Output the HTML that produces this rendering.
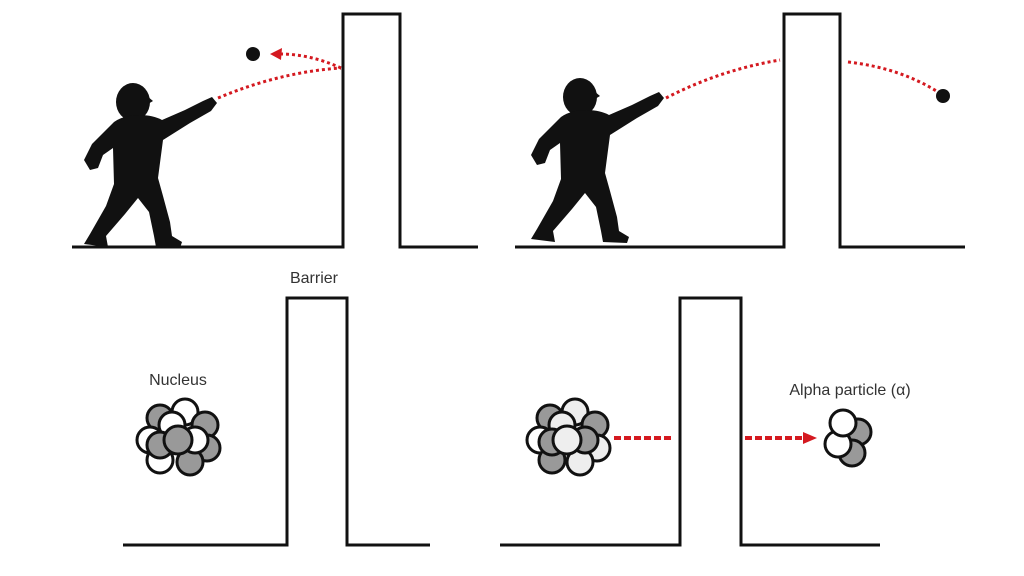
<!DOCTYPE html>
<html><head><style>body{margin:0;background:#fff}svg{display:block}</style></head><body>
<svg width="1024" height="576" viewBox="0 0 1024 576" xmlns="http://www.w3.org/2000/svg">
<defs>
<g id="kid" fill="#111">
<ellipse cx="133" cy="102" rx="17" ry="19"/>
<path d="M147,96 l6,5 -5,3z"/>
<path d="M114,122 C128,112 152,114 162,120 L185,110 L203,101 L212,97 L217,103 L211,111 L190,123 L163,140 L158,178 L163,196 L170,222 L172,236 L182,242 L180,248 L156,247 L154,236 L149,212 L138,198 L125,214 L106,236 L108,247 L84,244 L90,234 L106,206 L114,184 L113,148 L103,155 L98,168 L90,170 L84,160 L92,144 Z"/>
</g>
</defs>
<g fill="none" stroke="#111" stroke-width="3">
<path d="M72,247 H343 V14 H400 V247 H478"/>
<path d="M515,247 H784 V14 H840 V247 H965"/>
<path d="M123,545 H287 V298 H347 V545 H430"/>
<path d="M500,545 H680 V298 H741 V545 H880"/>
</g>
<use href="#kid"/>
<use href="#kid" transform="translate(447,-5)"/>
<circle cx="253" cy="54" r="7" fill="#111"/>
<circle cx="943" cy="96" r="7" fill="#111"/>
<g fill="none" stroke="#d41920" stroke-width="3" stroke-dasharray="3,3">
<path d="M218,98 Q280,72 341,68"/>
<path d="M341,68 Q310,54 280,54"/>
<path d="M666,98 Q720,70 780,60"/>
<path d="M848,62 Q900,68 938,92"/>
</g>
<path d="M270,54 L282,48 L281,60Z" fill="#d41920"/>
<g fill="none" stroke="#d41920" stroke-width="4">
<path d="M614,438 H672" stroke-dasharray="7,3"/>
<path d="M745,438 H805" stroke-dasharray="7,3"/>
</g>
<path d="M817,438 L803,432 L803,444Z" fill="#d41920"/>
<g stroke="#111" stroke-width="3">
<circle cx="160" cy="418" r="13" fill="#999"/><circle cx="185" cy="412" r="13" fill="#fff"/><circle cx="205" cy="425" r="13" fill="#999"/>
<circle cx="150" cy="440" r="13" fill="#fff"/><circle cx="207" cy="448" r="13" fill="#999"/><circle cx="160" cy="460" r="13" fill="#fff"/>
<circle cx="190" cy="462" r="13" fill="#999"/><circle cx="172" cy="425" r="13" fill="#fff"/><circle cx="195" cy="440" r="13" fill="#fff"/>
<circle cx="160" cy="445" r="13" fill="#999"/><circle cx="178" cy="440" r="14" fill="#999"/>
</g>
<g stroke="#111" stroke-width="3">
<circle cx="550" cy="418" r="13" fill="#999"/><circle cx="575" cy="412" r="13" fill="#eee"/><circle cx="595" cy="425" r="13" fill="#999"/>
<circle cx="540" cy="440" r="13" fill="#fff"/><circle cx="597" cy="448" r="13" fill="#eee"/><circle cx="552" cy="460" r="13" fill="#999"/>
<circle cx="580" cy="462" r="13" fill="#eee"/><circle cx="562" cy="425" r="13" fill="#eee"/><circle cx="585" cy="440" r="13" fill="#999"/>
<circle cx="552" cy="442" r="13" fill="#999"/><circle cx="567" cy="440" r="14" fill="#eee"/>
</g>
<g stroke="#111" stroke-width="3">
<circle cx="858" cy="432" r="13" fill="#999"/><circle cx="852" cy="453" r="13" fill="#999"/>
<circle cx="838" cy="444" r="13" fill="#fff"/><circle cx="843" cy="423" r="13" fill="#fff"/>
</g>
<g font-family="Liberation Sans, sans-serif" font-size="16" fill="#333" text-anchor="middle">
<text x="314" y="283">Barrier</text>
<text x="178" y="385">Nucleus</text>
<text x="850" y="395">Alpha particle (α)</text>
</g>
</svg>
</body></html>
